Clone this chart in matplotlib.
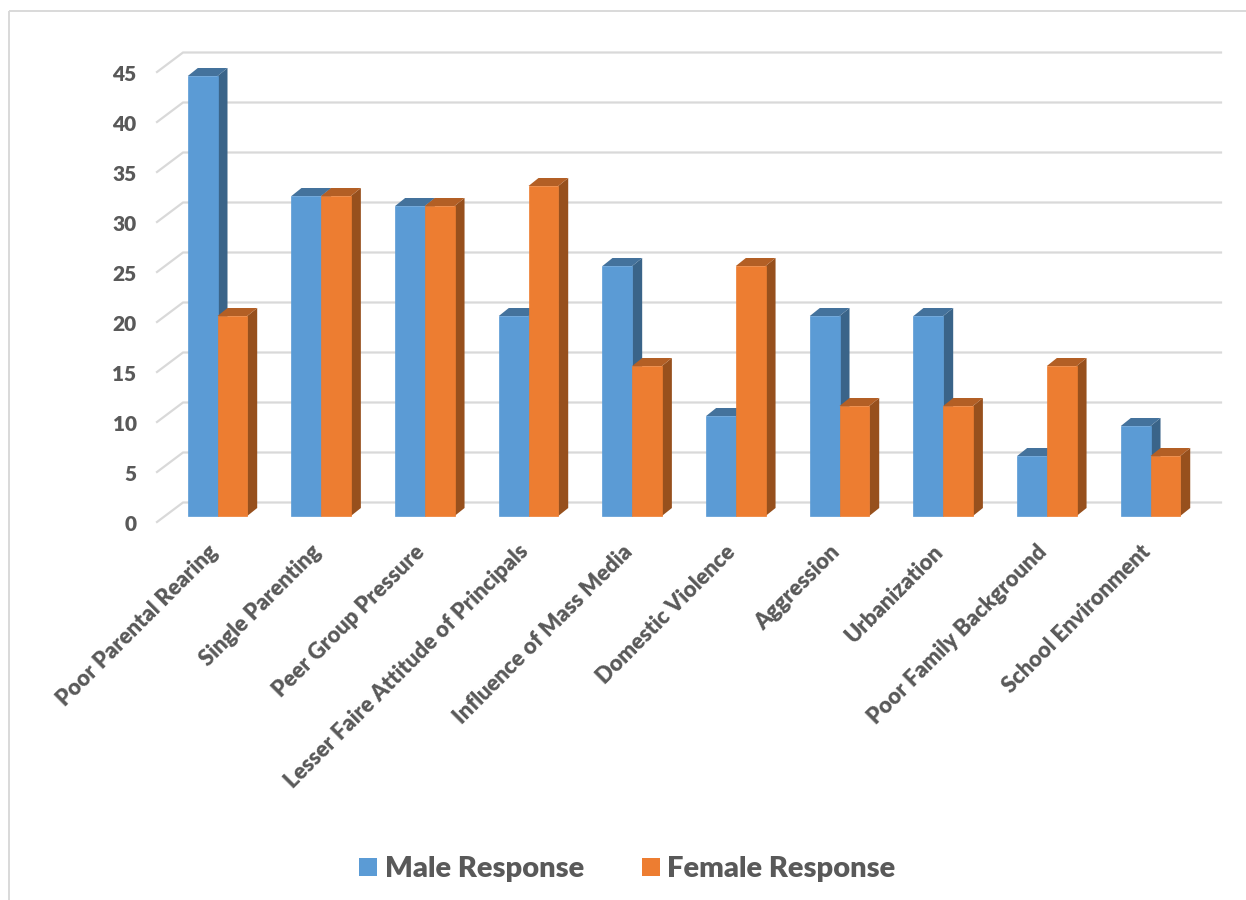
import matplotlib
matplotlib.use('Agg')
import matplotlib.pyplot as plt
from matplotlib.patches import Polygon, Rectangle
import numpy as np

categories = ['Poor Parental Rearing', 'Single Parenting', 'Peer Group Pressure',
              'Lesser Faire Attitude of Principals', 'Influence of Mass Media',
              'Domestic Violence', 'Aggression', 'Urbanization',
              'Poor Family Background', 'School Environment']
male = [44, 32, 31, 20, 25, 10, 20, 20, 6, 9]
female = [20, 32, 31, 33, 15, 25, 11, 11, 15, 6]
y_ticks = [0, 5, 10, 15, 20, 25, 30, 35, 40, 45]

BLUE = ('#5B9BD5', '#44729C', '#3A6489')
ORANGE = ('#ED7D31', '#B35F25', '#97501D')
GRID = '#D9D9D9'
TEXT = '#595959'

W, H = 1246, 900
PX_X = 103.67   # pixels per category
PX_Y = 10.0     # pixels per value unit
X0, Y0 = 217.5, 516.0   # where category 0 meets the value 0 line

plt.rcParams['font.family'] = ['Lato', 'DejaVu Sans']

fig = plt.figure(figsize=(W / 100, H / 100), dpi=100)
ax = fig.add_axes([0, 0, 1, 1])
ax.set_xlim(-X0 / PX_X, (W - X0) / PX_X)
ax.set_ylim((Y0 - H) / PX_Y, Y0 / PX_Y)
ax.axis('off')


def px(x):
    return (x - X0) / PX_X


def py(y):
    return (Y0 - y) / PX_Y


bar_w = 29.7 / PX_X
depth_x = 10.0 / PX_X
depth_y = 8.0 / PX_Y


def draw_bar(left, value, colors, z):
    right = left + bar_w
    ax.add_patch(Polygon([(right, 0), (right + depth_x, depth_y),
                          (right + depth_x, value + depth_y), (right, value)],
                         closed=True, fc=colors[2], ec='none', zorder=z))
    ax.add_patch(Polygon([(left, value), (left + depth_x, value + depth_y),
                          (right + depth_x, value + depth_y), (right, value)],
                         closed=True, fc=colors[1], ec='none', zorder=z))
    ax.bar(left, value, bar_w, align='edge', color=colors[0], edgecolor=colors[0],
           linewidth=0.5, zorder=z + 0.1)


# outer frame of the chart area
ax.plot([px(8.5), px(8.5)], [py(900), py(11)], color=GRID, lw=1.4, zorder=1, solid_capstyle='butt')
ax.plot([px(8.5), px(1246)], [py(11), py(11)], color=GRID, lw=1.4, zorder=1, solid_capstyle='butt')

# gridlines on the back wall and the slanted side wall
for v in y_ticks:
    ax.plot([px(157), px(183), px(1221)],
            [v - 0.6, v + 1.35, v + 1.35],
            color=GRID, lw=1.6, zorder=2, solid_joinstyle='miter')
    ax.text(px(136.5), v - 0.7, str(v), ha='right', va='center_baseline',
            fontsize=15, fontweight='heavy', color=TEXT, zorder=5)

for i, name in enumerate(categories):
    draw_bar(i - bar_w, male[i], BLUE, 3 + i * 0.01)
    draw_bar(i, female[i], ORANGE, 3.3 + i * 0.01)
    ax.text(i - 0.105, py(541), name, rotation=45, rotation_mode='anchor', ha='right', va='top',
            fontsize=15.8, fontweight='heavy', color=TEXT, zorder=5)

# legend
ax.add_patch(Rectangle((px(359), py(876)), 18 / PX_X, 18 / PX_Y, fc=BLUE[0], ec='none'))
ax.text(px(385), py(866), 'Male Response', ha='left', va='center_baseline',
        fontsize=21, fontweight='heavy', color=TEXT)
ax.add_patch(Rectangle((px(642), py(876)), 18 / PX_X, 18 / PX_Y, fc=ORANGE[0], ec='none'))
ax.text(px(667), py(866), 'Female Response', ha='left', va='center_baseline',
        fontsize=21, fontweight='heavy', color=TEXT)

fig.savefig('out.png', dpi=100, facecolor='white')
